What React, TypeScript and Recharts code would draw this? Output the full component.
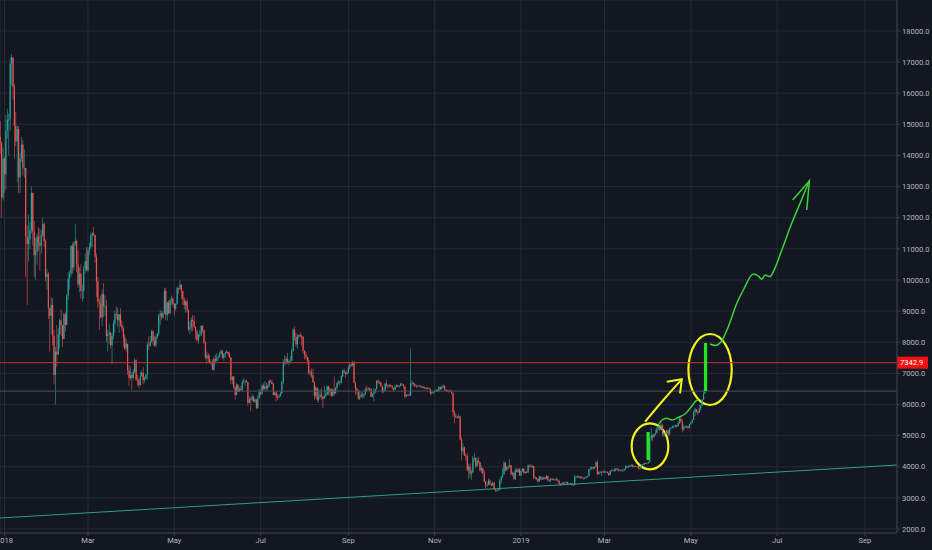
import React from 'react';
import {
  ComposedChart,
  Bar,
  Line,
  XAxis,
  YAxis,
  CartesianGrid,
  ReferenceLine,
  ReferenceArea,
} from 'recharts';

// ---------- data: daily candles, each row = [high, low, close]; open = previous close ----------
type Row = [number, number, number];

const openingPrice = 14600;

const dec2017: Row[] = [[15100,14050,14400],[14450,12000,12650],[14250,12550,13900]];
const jan2018: Row[] = [[13950,12800,13400],[15300,12900,14800],[15500,14550,15150],[15350,14000,15150],[17150,14800,16950],[17250,16250,17150],[17150,15800,16200],[16300,13900,14950],[15400,14300,14450],[14950,13150,14850],[14950,12800,13300],[14100,12800,13900],[14600,13800,14350],[14500,13350,13600],[14200,13300,13600],[13600,10100,11400],[11750,9200,11150],[12100,10600,11300],[11850,11000,11600],[13000,11500,12800],[12800,11100,11550],[11900,10100,10800],[11350,10000,10900],[11500,10500,11400],[11700,10950,11200],[11650,10300,11100],[11600,10850,11450],[12000,11400,11800],[11850,11050,11250],[11300,9950,10100],[10350,9700,10200]];
const feb2018: Row[] = [[10250,8750,9100],[9100,7700,8850],[9450,8250,9200],[9400,7900,8200],[8400,6650,6950],[7850,6000,7700],[8550,7200,7600],[8450,7600,8250],[8750,7800,8700],[9050,8200,8550],[8550,7850,8100],[8950,8100,8900],[8950,8350,8550],[9550,8550,9500],[10250,9350,10050],[10300,9700,10200],[11100,10100,11100],[11200,10200,10400],[11250,10300,11150],[11800,11100,11250],[11300,10250,10500],[10950,9750,9850],[10400,9600,10200],[10500,9400,9650],[9850,9300,9650],[10450,9400,10350],[10850,10200,10600],[11050,10300,10300]];
const mar2018: Row[] = [[11050,10250,10950],[11200,10800,11050],[11500,11000,11450],[11550,11050,11500],[11700,11400,11450],[11450,10550,10750],[10850,9450,9950],[10100,9100,9300],[9400,8400,9250],[9500,8750,8800],[9700,8500,9550],[9900,8800,9150],[9500,8850,9150],[9350,8000,8200],[8400,7700,8250],[8600,7950,8300],[8350,7800,7900],[8300,7300,8200],[8700,8100,8600],[9000,8300,8900],[9150,8750,8900],[9100,8500,8700],[8900,8300,8900],[9100,8500,8550],[8700,8350,8450],[8500,7850,8150],[8250,7750,7800],[8100,7700,7950],[7950,6950,7100],[7250,6600,6850],[7200,6800,6950]];
const apr2018: Row[] = [[7050,6450,6850],[7150,6800,7050],[7500,7000,7420],[7450,6750,6800],[6950,6600,6780],[6850,6520,6620],[7050,6600,6900],[7100,6880,7020],[7200,6650,6780],[6900,6700,6840],[6980,6800,6950],[8000,6800,7920],[8200,7750,7890],[8200,7850,8000],[8400,8000,8350],[8400,7900,8050],[8200,7850,7900],[8250,7850,8170],[8300,8100,8280],[8900,8200,8860],[9050,8550,8920],[9000,8700,8800],[9000,8750,8940],[9750,8900,9650],[9750,8700,8870],[9300,8700,9280],[9350,8900,8930],[9400,8900,9350],[9500,9200,9400],[9450,9150,9240]];
const may2018: Row[] = [[9250,8850,9080],[9250,9000,9230],[9800,9200,9740],[9750,9550,9700],[9990,9700,9850],[9850,9400,9650],[9650,9200,9370],[9450,9050,9190],[9350,8950,9310],[9400,8950,9020],[9050,8350,8410],[8650,8250,8480],[8800,8350,8720],[8880,8350,8680],[8850,8450,8490],[8500,8100,8340],[8400,8000,8060],[8280,7950,8240],[8400,8150,8240],[8550,8200,8520],[8550,8300,8390],[8400,7950,8000],[8030,7450,7500],[7700,7300,7570],[7650,7350,7460],[7600,7300,7350],[7400,7250,7360],[7450,7100,7120],[7550,7080,7470],[7600,7320,7400],[7650,7380,7500]];
const jun2018: Row[] = [[7600,7400,7530],[7700,7500,7640],[7780,7600,7720],[7750,7470,7500],[7650,7400,7620],[7700,7500,7660],[7750,7650,7690],[7700,7550,7620],[7700,7500,7510],[7520,6650,6780],[6900,6650,6900],[6900,6500,6550],[6600,6150,6310],[6700,6300,6640],[6650,6400,6400],[6550,6400,6490],[6600,6450,6460],[6800,6400,6710],[6850,6680,6740],[6800,6600,6760],[6800,6700,6720],[6720,5950,6050],[6250,6050,6170],[6250,5780,6150],[6350,6100,6250],[6290,6070,6090],[6200,6050,6160],[6170,5850,5890],[6300,5850,6200],[6500,6200,6390]];
const jul2018: Row[] = [[6450,6300,6350],[6650,6300,6610],[6680,6450,6500],[6750,6450,6590],[6700,6450,6530],[6650,6450,6600],[6800,6550,6760],[6800,6700,6710],[6800,6650,6660],[6700,6300,6300],[6420,6300,6390],[6400,6100,6250],[6330,6150,6230],[6330,6200,6270],[6400,6250,6350],[6750,6340,6730],[7450,6650,7320],[7580,7250,7380],[7550,7280,7470],[7650,7300,7330],[7450,7250,7400],[7550,7350,7400],[7800,7400,7720],[8450,7700,8400],[8500,8050,8170],[8300,7850,7930],[8250,7800,8180],[8250,8100,8230],[8300,8150,8210],[8250,7900,8170],[8200,7650,7730]];
const aug2018: Row[] = [[7750,7450,7600],[7700,7450,7530],[7550,7300,7410],[7500,6950,7010],[7100,6900,7030],[7150,6850,6940],[7150,6700,6720],[6750,6150,6280],[6600,6200,6540],[6550,6100,6150],[6480,6050,6240],[6480,6200,6320],[6550,6150,6260],[6270,5880,6190],[6600,6170,6270],[6480,6220,6310],[6600,6290,6580],[6600,6300,6390],[6550,6300,6490],[6530,6250,6270],[6500,6260,6480],[6900,6300,6360],[6560,6350,6530],[6720,6450,6690],[6800,6650,6740],[6750,6600,6700],[6950,6670,6900],[7120,6880,7090],[7150,6980,7040],[7050,6850,6980],[7100,6950,7010]];
const sep2018: Row[] = [[7250,7000,7190],[7330,7120,7280],[7340,7200,7260],[7400,7230,7360],[7390,6700,6700],[6730,6300,6510],[6550,6350,6410],[6480,6150,6190],[6450,6150,6240],[6400,6220,6320],[6400,6200,6280],[6350,6200,6330],[6550,6300,6490],[6600,6400,6480],[6560,6470,6520],[6540,6430,6500],[6520,6230,6250],[6370,6230,6340],[6530,6100,6390],[6520,6360,6490],[6780,6480,6760],[6820,6650,6710],[6750,6650,6700],[6720,6560,6590],[6600,6350,6420],[6550,6380,6450],[6700,6420,6670],[6800,6550,6630],[6640,6500,6590],[6650,6550,6620]];
const oct2018: Row[] = [[6650,6550,6590],[6620,6480,6530],[6540,6420,6480],[6600,6470,6580],[6650,6540,6620],[6620,6560,6580],[6620,6540,6600],[6700,6580,6670],[6680,6600,6640],[6640,6500,6580],[6580,6200,6250],[6340,6240,6300],[6330,6280,6300],[6380,6270,6290],[7800,6280,6680],[6780,6600,6700],[6720,6600,6650],[6680,6560,6600],[6640,6540,6580],[6620,6560,6590],[6640,6570,6600],[6620,6540,6570],[6600,6520,6550],[6600,6520,6560],[6580,6490,6520],[6550,6480,6510],[6560,6490,6520],[6540,6470,6500],[6510,6300,6350],[6420,6330,6380],[6440,6350,6400]];
const nov2018: Row[] = [[6450,6380,6420],[6500,6400,6470],[6480,6400,6440],[6600,6400,6560],[6580,6460,6500],[6600,6480,6560],[6650,6530,6600],[6610,6450,6480],[6500,6400,6430],[6470,6420,6450],[6470,6380,6440],[6480,6400,6420],[6430,6330,6370],[6380,5600,5750],[5800,5400,5650],[5700,5550,5600],[5620,5550,5580],[5700,5560,5620],[5620,4850,4870],[4950,4200,4500],[4750,4400,4620],[4650,4350,4360],[4420,4200,4350],[4450,3850,3900],[4100,3600,4000],[4100,3650,3780],[3900,3580,3820],[4350,3800,4270],[4450,4150,4280],[4300,3950,4020]];
const dec2018: Row[] = [[4300,4000,4200],[4320,4100,4150],[4160,3850,3880],[4050,3800,3950],[3950,3760,3780],[3900,3500,3520],[3550,3300,3420],[3500,3350,3420],[3620,3400,3560],[3600,3400,3450],[3480,3370,3400],[3530,3390,3490],[3500,3260,3280],[3300,3190,3240],[3280,3200,3240],[3300,3230,3260],[3600,3250,3550],[3700,3460,3680],[3950,3650,3760],[4200,3740,4120],[4150,3850,3900],[4020,3850,4000],[4050,3920,3980],[4250,3980,4050],[4050,3720,3760],[3850,3700,3800],[3830,3580,3600],[3950,3580,3900],[3960,3820,3840],[3950,3800,3920],[3950,3700,3720]];
const jan2019: Row[] = [[3880,3700,3860],[3960,3830,3940],[3950,3780,3800],[3850,3770,3830],[3880,3800,3820],[4080,3800,4040],[4070,3980,4010],[4100,3980,4000],[4060,3970,4020],[4030,3600,3640],[3700,3600,3650],[3660,3560,3610],[3630,3500,3520],[3700,3510,3680],[3700,3570,3590],[3680,3580,3630],[3680,3570,3660],[3670,3580,3610],[3740,3610,3700],[3710,3530,3560],[3600,3520,3560],[3640,3500,3610],[3640,3560,3580],[3620,3560,3600],[3610,3540,3590],[3660,3570,3590],[3600,3500,3550],[3560,3420,3450],[3460,3380,3420],[3500,3420,3480],[3520,3440,3460]];
const feb2019: Row[] = [[3520,3440,3490],[3530,3460,3510],[3520,3420,3440],[3470,3420,3450],[3480,3440,3470],[3490,3400,3420],[3440,3400,3410],[3750,3400,3680],[3700,3650,3680],[3720,3640,3700],[3710,3640,3650],[3690,3610,3660],[3700,3620,3640],[3660,3590,3620],[3670,3600,3640],[3700,3630,3670],[3720,3650,3700],[3940,3690,3920],[4000,3880,3940],[4000,3900,3990],[4000,3900,3950],[4000,3930,3990],[4180,3980,4140],[4210,3730,3760],[3850,3750,3840],[3850,3800,3820],[3860,3700,3840],[3900,3800,3830]];
const mar2019: Row[] = [[3880,3820,3840],[3860,3810,3840],[3850,3780,3800],[3820,3700,3730],[3880,3720,3870],[3900,3840,3880],[3920,3860,3890],[3950,3840,3870],[3950,3860,3940],[3950,3900,3920],[3930,3850,3880],[3910,3840,3900],[3910,3860,3880],[3940,3840,3880],[3930,3870,3920],[4050,3910,4020],[4030,3960,3990],[4050,3970,4000],[4060,3990,4040],[4080,4010,4060],[4080,3980,4000],[4030,3990,4010],[4030,4000,4020],[4030,3990,4010],[4020,3920,3940],[3960,3920,3950],[4080,3940,4070],[4080,4040,4060],[4130,4050,4120],[4130,4090,4110],[4120,4090,4110]];
const apr2019: Row[] = [[4160,4100,4150],[4950,4140,4900],[5250,4850,5000],[5050,4820,4950],[5070,4930,5050],[5200,5000,5080],[5280,5070,5220],[5350,5180,5290],[5300,5150,5200],[5450,5180,5350],[5350,4980,5050],[5110,4950,5080],[5140,5050,5090],[5180,5050,5170],[5190,4990,5040],[5250,5030,5220],[5280,5200,5250],[5330,5240,5290],[5330,5220,5300],[5350,5270,5340],[5350,5250,5300],[5450,5280,5400],[5620,5380,5540],[5600,5400,5450],[5520,5100,5200],[5350,5150,5280],[5330,5240,5290],[5320,5240,5300],[5310,5200,5250],[5380,5230,5360]];
const may2019: Row[] = [[5430,5350,5410],[5530,5400,5510],[5800,5500,5760],[5900,5620,5850],[5850,5720,5780],[5800,5650,5740],[5990,5740,5880],[6000,5800,5960],[6180,5950,6150],[6450,6140,6350],[7400,6350,7342.9]];

// first day index of each month (day 0 = 1 Jan 2018)
const monthStarts = [-3, 0, 31, 59, 90, 120, 151, 181, 212, 243, 273, 304, 334, 365, 396, 424, 455, 485];
const monthRows = [dec2017, jan2018, feb2018, mar2018, apr2018, may2018, jun2018, jul2018, aug2018, sep2018, oct2018, nov2018, dec2018, jan2019, feb2019, mar2019, apr2019, may2019];

// axes
const timeTicks = [0, 59, 120, 181, 243, 304, 365, 424, 485, 546, 608];
const timeLabels = ['2018', 'Mar', 'May', 'Jul', 'Sep', 'Nov', '2019', 'Mar', 'May', 'Jul', 'Sep'];
const priceTicks = [2000, 3000, 4000, 5000, 6000, 7000, 8000, 9000, 10000, 11000, 12000, 13000, 14000, 15000, 16000, 17000, 18000];
const lastPrice = 7342.9;
const grayLevel = 6430;

// drawings (day, price)
const trendLine = [{ day: -3.18, v: 2353 }, { day: 630.7, v: 4056 }];
const greenProjection = [
  { day: 498.6, v: 7943 }, { day: 502.1, v: 7895 }, { day: 506.9, v: 8049 }, { day: 511.5, v: 8499 },
  { day: 517.5, v: 9250 }, { day: 522.1, v: 9677 }, { day: 529.2, v: 10191 }, { day: 532.7, v: 10127 },
  { day: 535.1, v: 10021 }, { day: 537.5, v: 10159 }, { day: 541.0, v: 10105 }, { day: 543.3, v: 10265 },
  { day: 549.3, v: 10962 }, { day: 556.3, v: 11820 }, { day: 562.2, v: 12463 }, { day: 568.8, v: 13189 },
];
const greenArrowHead = [{ day: 557.0, v: 12568 }, { day: 568.8, v: 13189 }, { day: 566.9, v: 12247 }];
const greenMiniTrend = [
  { day: 462.0, v: 5341 }, { day: 464.6, v: 5501 }, { day: 468.0, v: 5556 }, { day: 471.7, v: 5501 },
  { day: 476.2, v: 5588 }, { day: 480.9, v: 5694 }, { day: 484.5, v: 5877 }, { day: 488.0, v: 6089 },
  { day: 490.3, v: 6166 },
];
const greenBars = [
  { day: 454.8, from: 4217, to: 5116 },
  { day: 495.4, from: 6433, to: 7975 },
];
const yellowArrow = [{ day: 452.7, v: 5447 }, { day: 465.6, v: 6144 }, { day: 478.6, v: 6809 }];
const yellowArrowHead = [{ day: 468.0, v: 6732 }, { day: 478.6, v: 6809 }, { day: 477.4, v: 6359 }];
const yellowCircles = [
  { x1: 443.2, x2: 469.1, y1: 3918, y2: 5395 },
  { x1: 483.3, x2: 513.9, y1: 5983, y2: 8264 },
];

// ---------- build candle table ----------
type Candle = { day: number; o: number; h: number; l: number; c: number; range: [number, number] };
const candles: Candle[] = [];
{
  let prev = openingPrice;
  monthRows.forEach((rows, m) => {
    rows.forEach((r, i) => {
      const o = prev;
      const c = r[2];
      const h = Math.max(r[0], o, c);
      const l = Math.min(r[1], o, c);
      candles.push({ day: monthStarts[m] + i, o, h, l, c, range: [l, h] });
      prev = c;
    });
  });
}

const UP = '#26a69a';
const DOWN = '#ef5350';
const BG = '#131722';
const GRID = '#262a35';
const AXIS_TEXT = '#b2b5be';
const FONT = 'Roboto, "Liberation Sans", sans-serif';

const CandleShape = (props: any) => {
  const { x, y, width, height, payload } = props;
  if (!payload || x == null || y == null) return null;
  const top = Math.min(y, y + height);
  const bottom = Math.max(y, y + height);
  const span = payload.h - payload.l || 1;
  const ratio = (bottom - top) / span;
  const yOf = (v: number) => top + (payload.h - v) * ratio;
  const cx = x + width / 2;
  const up = payload.c >= payload.o;
  const color = up ? UP : DOWN;
  const bTop = yOf(Math.max(payload.o, payload.c));
  const bBot = yOf(Math.min(payload.o, payload.c));
  return (
    <g>
      <rect x={cx - 0.35} y={top} width={0.7} height={Math.max(bottom - top, 0.5)} fill={color} opacity={0.85} />
      <rect x={cx - 0.6} y={bTop} width={1.2} height={Math.max(bBot - bTop, 0.8)} fill={color} />
    </g>
  );
};

const ellipseShape = (props: any) => {
  const { x, y, width, height } = props;
  if (x == null) return null;
  return (
    <ellipse
      cx={x + width / 2}
      cy={y + height / 2}
      rx={Math.abs(width) / 2}
      ry={Math.abs(height) / 2}
      fill="none"
      stroke="#f2f21e"
      strokeWidth={2.2}
    />
  );
};

const PriceLabel = (props: any) => {
  const vb = props.viewBox || {};
  const x0 = (vb.x ?? 0) + (vb.width ?? 0);
  const yy = vb.y ?? 0;
  return (
    <g>
      <rect x={x0} y={yy - 6} width={31} height={12} fill="#f01010" />
      <text x={x0 + 3} y={yy + 2.7} fill="#ffffff" fontSize={7.6} fontFamily={FONT}>
        {lastPrice.toFixed(1)}
      </text>
    </g>
  );
};

export default function App() {
  return (
    <div style={{ position: 'absolute', left: 0, top: 0, width: 932, height: 550, background: BG, overflow: 'hidden' }}>
      <ComposedChart width={932} height={550} data={candles} margin={{ top: 0, right: 0, bottom: 0, left: 0 }}>
        <CartesianGrid stroke={GRID} strokeWidth={1} />
        <XAxis
          dataKey="day"
          type="number"
          domain={[-3.18, 630.7]}
          allowDataOverflow
          ticks={timeTicks}
          interval={0}
          tickFormatter={(v: number) => timeLabels[timeTicks.indexOf(v)] ?? ''}
          height={17}
          stroke="#3a3e4a"
          tickSize={3}
          tickMargin={2}
          tick={{ fill: AXIS_TEXT, fontSize: 7.6, fontFamily: FONT }}
        />
        <YAxis
          orientation="right"
          type="number"
          domain={[1871.5, 18993]}
          allowDataOverflow
          ticks={priceTicks}
          interval={0}
          tickFormatter={(v: number) => v.toFixed(1)}
          width={35}
          stroke="#3a3e4a"
          tickSize={3}
          tickMargin={2}
          tick={{ fill: AXIS_TEXT, fontSize: 7.6, fontFamily: FONT }}
        />
        <ReferenceLine y={grayLevel} stroke="#4a4f5c" strokeWidth={1} />
        <ReferenceLine
          segment={[{ x: trendLine[0].day, y: trendLine[0].v }, { x: trendLine[1].day, y: trendLine[1].v }]}
          stroke="#2f9c8c"
          strokeWidth={1}
        />
        <Bar dataKey="range" barSize={1} shape={CandleShape} activeBar={false} isAnimationActive={false} />
        <ReferenceLine y={lastPrice} stroke="#d42a2a" strokeWidth={1} label={<PriceLabel />} />
        {yellowCircles.map((c, i) => (
          <ReferenceArea key={i} x1={c.x1} x2={c.x2} y1={c.y1} y2={c.y2} shape={ellipseShape} />
        ))}
        {greenBars.map((b, i) => (
          <ReferenceLine
            key={'gb' + i}
            segment={[{ x: b.day, y: b.from }, { x: b.day, y: b.to }]}
            stroke="#22e622"
            strokeWidth={3.2}
          />
        ))}
        <Line data={greenMiniTrend} dataKey="v" type="monotone" stroke="#3ad43a" strokeWidth={1.4} dot={false} activeDot={false} isAnimationActive={false} />
        <Line data={greenProjection} dataKey="v" type="monotone" stroke="#3ad43a" strokeWidth={1.5} dot={false} activeDot={false} isAnimationActive={false} />
        <Line data={greenArrowHead} dataKey="v" type="linear" stroke="#3ad43a" strokeWidth={1.5} dot={false} activeDot={false} isAnimationActive={false} />
        <Line data={yellowArrow} dataKey="v" type="monotone" stroke="#f2f21e" strokeWidth={2} dot={false} activeDot={false} isAnimationActive={false} />
        <Line data={yellowArrowHead} dataKey="v" type="linear" stroke="#f2f21e" strokeWidth={2} dot={false} activeDot={false} isAnimationActive={false} />
      </ComposedChart>
    </div>
  );
}
